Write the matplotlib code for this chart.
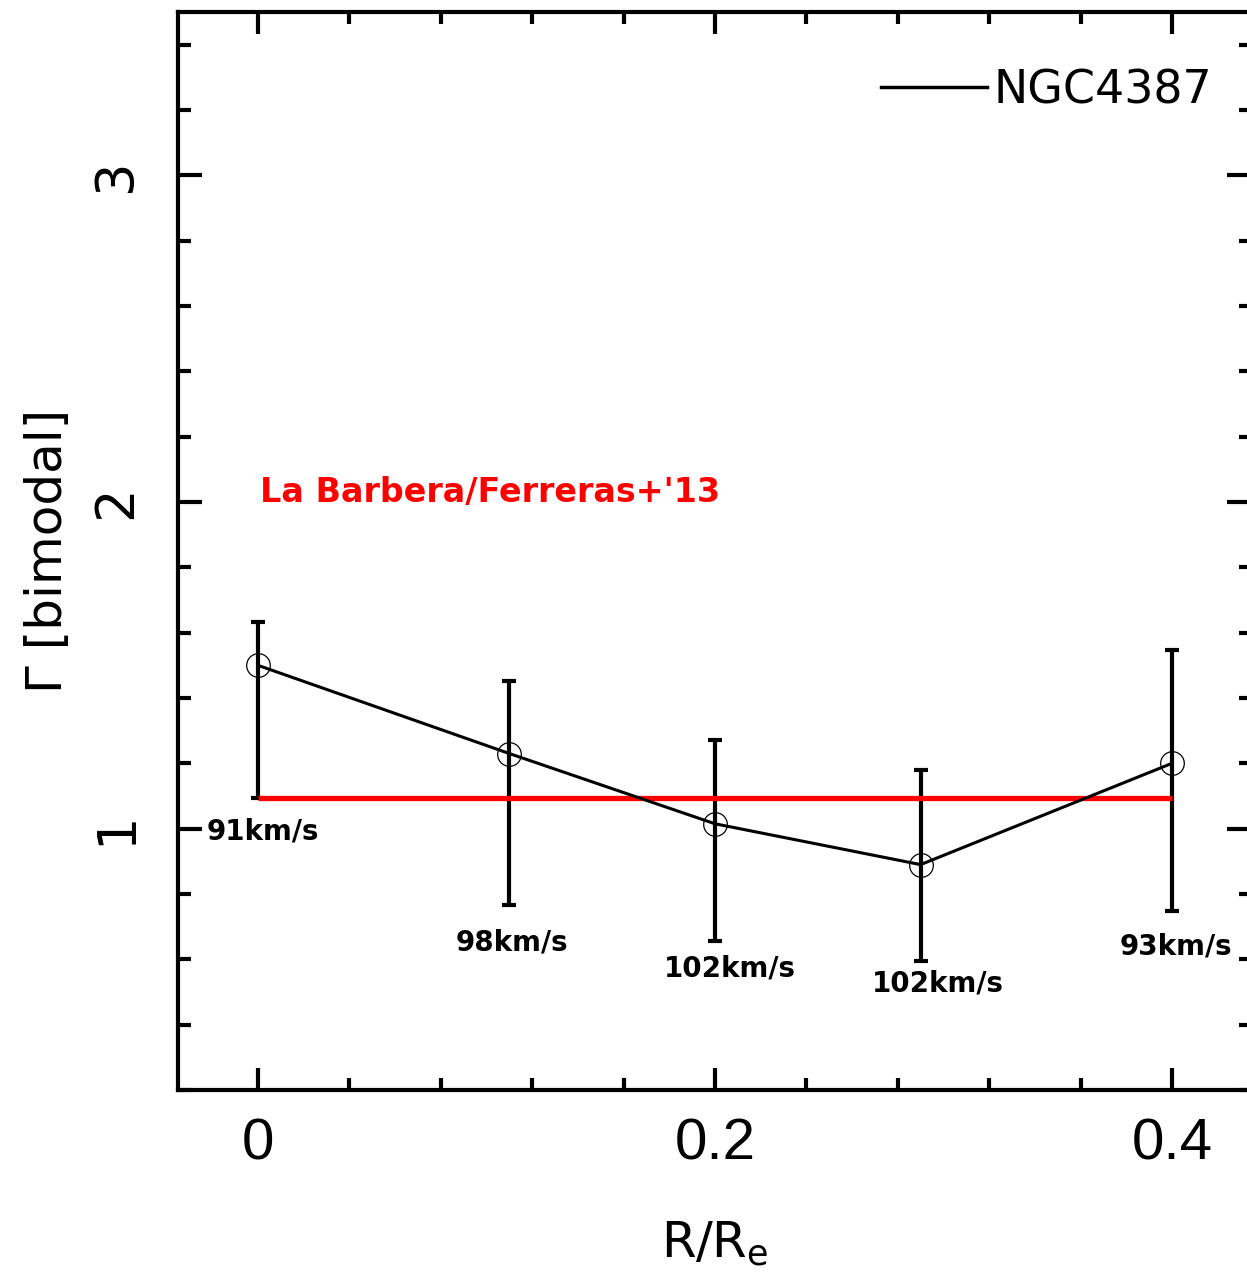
import matplotlib
matplotlib.use("Agg")
import matplotlib.pyplot as plt
from matplotlib.ticker import MultipleLocator

# Data
radius = [0.0, 0.11, 0.2, 0.29, 0.4]
gamma = [1.50, 1.23, 1.015, 0.89, 1.20]
err_hi = [1.634, 1.453, 1.27, 1.18, 1.548]
err_lo = [1.095, 0.767, 0.657, 0.596, 0.749]
sigma_labels = ["91km/s", "98km/s", "102km/s", "102km/s", "93km/s"]
label_x = [0.002, 0.111, 0.2066, 0.2976, 0.4018]
label_y = [0.99, 0.651, 0.571, 0.525, 0.639]
ref_x = [0.0, 0.4]
ref_y = [1.095, 1.095]
ref_text = "La Barbera/Ferreras+'13"
xticks = [0, 0.2, 0.4]
xticklabels = ["0", "0.2", "0.4"]
yticks = [1, 2, 3]
yticklabels = ["1", "2", "3"]

W, H = 1247, 1280
fig = plt.figure(figsize=(W / 100, H / 100), dpi=100)
left, right, bottom, top = 178, 1251, 1090, 12
ax = fig.add_axes([left / W, 1 - bottom / H, (right - left) / W, (bottom - top) / H])

ax.set_xlim(-0.035, 0.4346)
ax.set_ylim(0.2, 3.5)

yerr = [[g - l for g, l in zip(gamma, err_lo)], [h - g for g, h in zip(gamma, err_hi)]]
ax.errorbar(radius, gamma, yerr=yerr, fmt="none", ecolor="black", elinewidth=3,
            capsize=5, capthick=3, zorder=2)
ax.plot(ref_x, ref_y, color="#ff0000", lw=3.8, zorder=3, solid_capstyle="butt")
ax.plot(radius, gamma, color="black", lw=2.2, zorder=4, label="NGC4387")
ax.plot(radius, gamma, linestyle="none", marker="o", markersize=17,
        markerfacecolor="none", markeredgecolor="black", markeredgewidth=0.9, zorder=5)

for t, x, y in zip(sigma_labels, label_x, label_y):
    ax.text(x, y, t, ha="center", va="center", fontsize=20, fontweight="bold",
            family="DejaVu Sans", color="black", zorder=6)

ax.text(0.0009, 2.029, ref_text, ha="left", va="center", fontsize=24,
        fontweight="bold", color="#ff0000", family="DejaVu Sans")

leg = ax.legend(loc="upper right", bbox_to_anchor=(0.981, 0.965), frameon=False,
                fontsize=33, handlelength=2.3, handletextpad=0.15, borderaxespad=0)
for line in leg.get_lines():
    line.set_linewidth(2.5)

for s in ax.spines.values():
    s.set_linewidth(3)

ax.set_xticks(xticks)
ax.set_xticklabels(xticklabels, family="Liberation Sans", fontsize=42)
ax.xaxis.set_minor_locator(MultipleLocator(0.04))
ax.set_yticks(yticks)
ax.set_yticklabels(yticklabels, rotation=90, va="center", fontsize=38)
ax.yaxis.set_minor_locator(MultipleLocator(0.2))

ax.tick_params(which="both", direction="in", top=True, right=True, width=3, color="black")
ax.tick_params(axis="x", which="major", length=16, pad=20)
ax.tick_params(axis="x", which="minor", length=8.6)
ax.tick_params(axis="y", which="major", length=17, pad=26)
ax.tick_params(axis="y", which="minor", length=9)

ax.set_ylabel("Γ [bimodal]", fontsize=36)
ax.yaxis.set_label_coords((72 - left) / (right - left), 0.5)
ax.set_xlabel(r"R/R$_\mathregular{e}$", fontsize=36)
ax.xaxis.set_label_coords(0.5, (bottom - 1220) / (bottom - top))

fig.savefig("out.png", dpi=100)
